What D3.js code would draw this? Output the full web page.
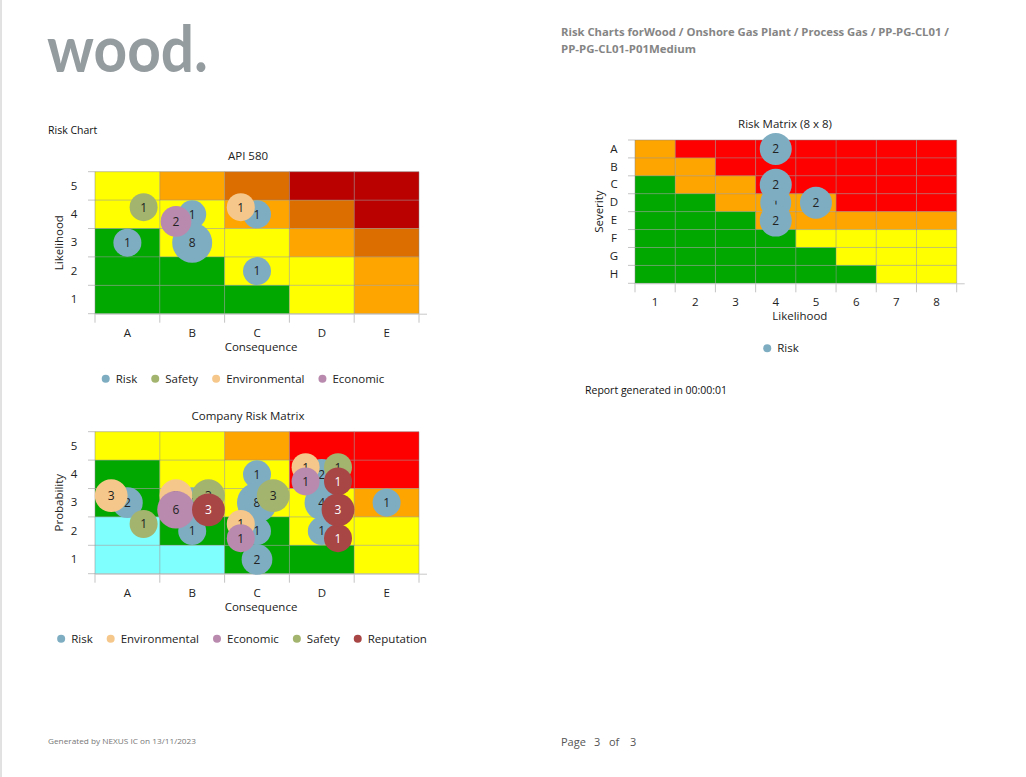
<!DOCTYPE html>
<html>
<head>
<meta charset="utf-8">
<script src="https://cdn.jsdelivr.net/npm/d3@7"></script>
<style>
  body { margin: 0; background: #fff; }
  svg text { font-family: "Open Sans", "Noto Sans", sans-serif; }
</style>
</head>
<body>
<svg id="page" width="1026" height="777"></svg>
<script>
// ---------- data ----------
const consequence = ["A", "B", "C", "D", "E"];
const probability = ["5", "4", "3", "2", "1"];          // top -> bottom
const severity = ["A", "B", "C", "D", "E", "F", "G", "H"]; // top -> bottom
const likelihood8 = ["1", "2", "3", "4", "5", "6", "7", "8"];

// risk level of every cell, rows listed top -> bottom
const apiLevels = [
  ["M", "MH", "H", "VH", "VH"],
  ["M", "M", "MH", "H", "VH"],
  ["L", "M", "M", "MH", "H"],
  ["L", "L", "M", "M", "MH"],
  ["L", "L", "L", "M", "MH"]
];
const companyLevels = [
  ["M", "M", "MH", "X", "X"],
  ["L", "M", "M", "X", "X"],
  ["L", "M", "M", "M", "MH"],
  ["N", "L", "L", "M", "M"],
  ["N", "N", "L", "L", "M"]
];
const matrix8Levels = [
  ["MH", "X", "X", "X", "X", "X", "X", "X"],
  ["MH", "MH", "X", "X", "X", "X", "X", "X"],
  ["L", "MH", "MH", "X", "X", "X", "X", "X"],
  ["L", "L", "MH", "MH", "MH", "X", "X", "X"],
  ["L", "L", "L", "MH", "MH", "MH", "MH", "MH"],
  ["L", "L", "L", "L", "M", "M", "M", "M"],
  ["L", "L", "L", "L", "L", "M", "M", "M"],
  ["L", "L", "L", "L", "L", "L", "M", "M"]
];

// bubbles: column, row, count
const apiRisk = [{c: "A", r: "3", n: 1}, {c: "B", r: "4", n: 1}, {c: "C", r: "4", n: 1}, {c: "C", r: "2", n: 1}, {c: "B", r: "3", n: 8}];
const apiSafety = [{c: "A", r: "4", n: 1}];
const apiEnvironmental = [{c: "C", r: "4", n: 1}];
const apiEconomic = [{c: "B", r: "4", n: 2}];

const coRisk = [{c: "B", r: "2", n: 1}, {c: "C", r: "4", n: 1}, {c: "C", r: "2", n: 1}, {c: "D", r: "2", n: 1}, {c: "E", r: "3", n: 1},
  {c: "A", r: "3", n: 2}, {c: "B", r: "3", n: 2}, {c: "C", r: "1", n: 2}, {c: "D", r: "4", n: 2}, {c: "D", r: "3", n: 4}, {c: "C", r: "3", n: 8}];
const coEnvironmental = [{c: "C", r: "2", n: 1}, {c: "D", r: "4", n: 1}, {c: "A", r: "3", n: 3}, {c: "B", r: "3", n: 3}];
const coEconomic = [{c: "C", r: "2", n: 1}, {c: "D", r: "4", n: 1}, {c: "B", r: "3", n: 6}];
const coSafety = [{c: "A", r: "2", n: 1}, {c: "D", r: "4", n: 1}, {c: "B", r: "3", n: 3}, {c: "C", r: "3", n: 3}];
const coReputation = [{c: "D", r: "4", n: 1}, {c: "D", r: "2", n: 1}, {c: "B", r: "3", n: 3}, {c: "D", r: "3", n: 3}];

const m8Risk = [{c: "4", r: "D", n: 1}, {c: "4", r: "A", n: 2}, {c: "4", r: "C", n: 2}, {c: "4", r: "E", n: 2}, {c: "5", r: "D", n: 2}];

// ---------- styles ----------
const levelColor = {N: "#80ffff", L: "#00a800", M: "#ffff00", MH: "#ffa500", H: "#dc6e00", VH: "#bb0000", X: "#ff0000"};
const seriesColor = {Risk: "#7eadc2", Safety: "#a3b46f", Environmental: "#f6c78a", Economic: "#b98aad", Reputation: "#a84646"};
// where each series sits inside its cell (fraction of cell size)
const seriesOffset = {Risk: [0, 0], Safety: [0.25, 0.25], Environmental: [-0.25, 0.25], Economic: [-0.25, -0.25], Reputation: [0.25, -0.25]};

const svg = d3.select("#page");

// page furniture
svg.append("line").attr("x1", 1).attr("x2", 1).attr("y1", 0).attr("y2", 777)
  .attr("stroke", "#c4c4c4");

svg.append("text").attr("x", 47).attr("y", 72).text("wood.")
  .attr("font-size", 65).attr("font-weight", 700).attr("fill", "#959ca0")
  .style("font-family", "Lato, 'Open Sans', sans-serif")
  .attr("textLength", 161).attr("lengthAdjust", "spacingAndGlyphs");

svg.append("text").attr("x", 561).attr("y", 36)
  .text("Risk Charts forWood / Onshore Gas Plant / Process Gas / PP-PG-CL01 /")
  .attr("font-size", 11).attr("font-weight", 700).attr("fill", "#858585")
  .attr("textLength", 388).attr("lengthAdjust", "spacingAndGlyphs");
svg.append("text").attr("x", 561).attr("y", 53).text("PP-PG-CL01-P01Medium")
  .attr("font-size", 11).attr("font-weight", 700).attr("fill", "#858585")
  .attr("textLength", 135).attr("lengthAdjust", "spacingAndGlyphs");

svg.append("text").attr("x", 48).attr("y", 134).text("Risk Chart")
  .attr("font-size", 10.5).attr("fill", "#111");
svg.append("text").attr("x", 585).attr("y", 394).text("Report generated in 00:00:01")
  .attr("font-size", 10.5).attr("fill", "#111");

svg.append("text").attr("x", 48).attr("y", 744).text("Generated by NEXUS IC on 13/11/2023")
  .attr("font-size", 8).attr("fill", "#777")
  .attr("textLength", 148).attr("lengthAdjust", "spacingAndGlyphs");
[["Page", 561], ["3", 594], ["of", 609], ["3", 630]].forEach(([t, x]) => {
  svg.append("text").attr("x", x).attr("y", 746).text(t)
    .attr("font-size", 11).attr("fill", "#555");
});

// ---------- matrix chart ----------
function drawMatrix(cfg) {
  const g = svg.append("g");
  const x = d3.scaleBand().domain(cfg.cols).range([cfg.x0, cfg.x1]);
  const y = d3.scaleBand().domain(cfg.rows).range([cfg.y0, cfg.y1]);
  const bw = x.bandwidth(), bh = y.bandwidth();

  const cells = [];
  cfg.levels.forEach((row, i) => row.forEach((lv, j) => cells.push({r: cfg.rows[i], c: cfg.cols[j], lv})));
  g.selectAll("rect.cell").data(cells).join("rect")
    .attr("x", d => x(d.c)).attr("y", d => y(d.r))
    .attr("width", bw).attr("height", bh)
    .attr("fill", d => levelColor[d.lv]);

  // grid lines on band edges
  const xEdges = cfg.cols.map(c => x(c)).concat([cfg.x1]);
  const yEdges = cfg.rows.map(r => y(r)).concat([cfg.y1]);
  g.selectAll("line.gx").data(xEdges).join("line")
    .attr("x1", d => d).attr("x2", d => d).attr("y1", cfg.y0).attr("y2", cfg.y1 + 9)
    .attr("stroke", "#8a8a8a").attr("stroke-opacity", 0.5);
  g.selectAll("line.gy").data(yEdges).join("line")
    .attr("x1", cfg.x0 - 7).attr("x2", cfg.x1).attr("y1", d => d).attr("y2", d => d)
    .attr("stroke", "#8a8a8a").attr("stroke-opacity", 0.5);
  // axis line
  g.append("line").attr("x1", cfg.x0).attr("x2", cfg.x1 + 8)
    .attr("y1", cfg.y1 + 0.5).attr("y2", cfg.y1 + 0.5).attr("stroke", "#c8c8c8");

  // tick labels through d3 axes
  const xa = g.append("g").attr("transform", `translate(0,${cfg.y1})`)
    .call(d3.axisBottom(x).tickSize(0).tickPadding(15));
  const ya = g.append("g").attr("transform", `translate(${cfg.x0},0)`)
    .call(d3.axisLeft(y).tickSize(0).tickPadding(15));
  [xa, ya].forEach(a => {
    a.select(".domain").remove();
    a.selectAll("text").attr("font-size", 11.5).attr("fill", "#222")
      .style("font-family", "'Open Sans', sans-serif");
  });
  ya.selectAll("text").attr("text-anchor", "middle").attr("x", -21);

  // titles
  g.append("text").attr("x", cfg.titleCx).attr("y", cfg.y0 - 12)
    .attr("text-anchor", "middle").attr("font-size", 11.5).attr("fill", "#222").text(cfg.title);
  g.append("text").attr("x", (cfg.x0 + cfg.x1 + 8) / 2).attr("y", cfg.y1 + 37)
    .attr("text-anchor", "middle").attr("font-size", 11.5).attr("fill", "#222").text(cfg.xTitle);
  g.append("text")
    .attr("transform", `translate(${cfg.x0 - 32},${(cfg.y0 + cfg.y1) / 2}) rotate(-90)`)
    .attr("text-anchor", "middle").attr("font-size", 11.5).attr("fill", "#222").text(cfg.yTitle);

  // bubbles
  cfg.series.forEach(s => {
    const off = seriesOffset[s.name];
    const pts = s.data.slice().sort((a, b) => a.n - b.n);
    const bg = g.append("g").selectAll("g").data(pts).join("g")
      .attr("transform", d => `translate(${x(d.c) + bw / 2 + off[0] * bw},${y(d.r) + bh / 2 - off[1] * bh})`);
    bg.append("circle").attr("r", d => cfg.radius(d.n)).attr("fill", seriesColor[s.name]);
    bg.append("text").attr("text-anchor", "middle").attr("dy", "0.36em")
      .attr("font-size", 12).attr("fill", s.name === "Reputation" ? "#fff" : "#222")
      .text(d => d.n);
  });

  // legend
  const lg = g.append("g").attr("transform", `translate(0,${cfg.y1 + 65})`);
  let cx = 0;
  cfg.series.forEach(s => {
    const it = lg.append("g").attr("transform", `translate(${cx},0)`);
    it.append("circle").attr("cx", 4).attr("r", 4).attr("fill", seriesColor[s.name]);
    const t = it.append("text").attr("x", 14).attr("dy", "0.35em")
      .attr("font-size", 11.5).attr("fill", "#222").text(s.name);
    cx += 14 + t.node().getComputedTextLength() + 14;
  });
  const total = cx - 14;
  lg.attr("transform", `translate(${cfg.legendCx - total / 2},${cfg.y1 + 65})`);
}

drawMatrix({
  title: "API 580", xTitle: "Consequence", yTitle: "Likelihood",
  cols: consequence, rows: probability, levels: apiLevels,
  x0: 95, x1: 419, y0: 171.7, y1: 313.7, titleCx: 248, legendCx: 243,
  radius: d3.scaleSqrt().domain([1, 8]).range([14, 20]),
  series: [
    {name: "Risk", data: apiRisk},
    {name: "Safety", data: apiSafety},
    {name: "Environmental", data: apiEnvironmental},
    {name: "Economic", data: apiEconomic}
  ]
});

drawMatrix({
  title: "Company Risk Matrix", xTitle: "Consequence", yTitle: "Probability",
  cols: consequence, rows: probability, levels: companyLevels,
  x0: 95, x1: 419, y0: 431.7, y1: 573.7, titleCx: 248, legendCx: 242,
  radius: d3.scaleSqrt().domain([1, 8]).range([14, 20]),
  series: [
    {name: "Risk", data: coRisk},
    {name: "Environmental", data: coEnvironmental},
    {name: "Economic", data: coEconomic},
    {name: "Safety", data: coSafety},
    {name: "Reputation", data: coReputation}
  ]
});

drawMatrix({
  title: "Risk Matrix (8 x 8)", xTitle: "Likelihood", yTitle: "Severity",
  cols: likelihood8, rows: severity, levels: matrix8Levels,
  x0: 635, x1: 956.7, y0: 140, y1: 283.3, titleCx: 785, legendCx: 781,
  radius: d3.scaleSqrt().domain([1, 2]).range([15.5, 16]),
  series: [
    {name: "Risk", data: m8Risk}
  ]
});
</script>
</body>
</html>
